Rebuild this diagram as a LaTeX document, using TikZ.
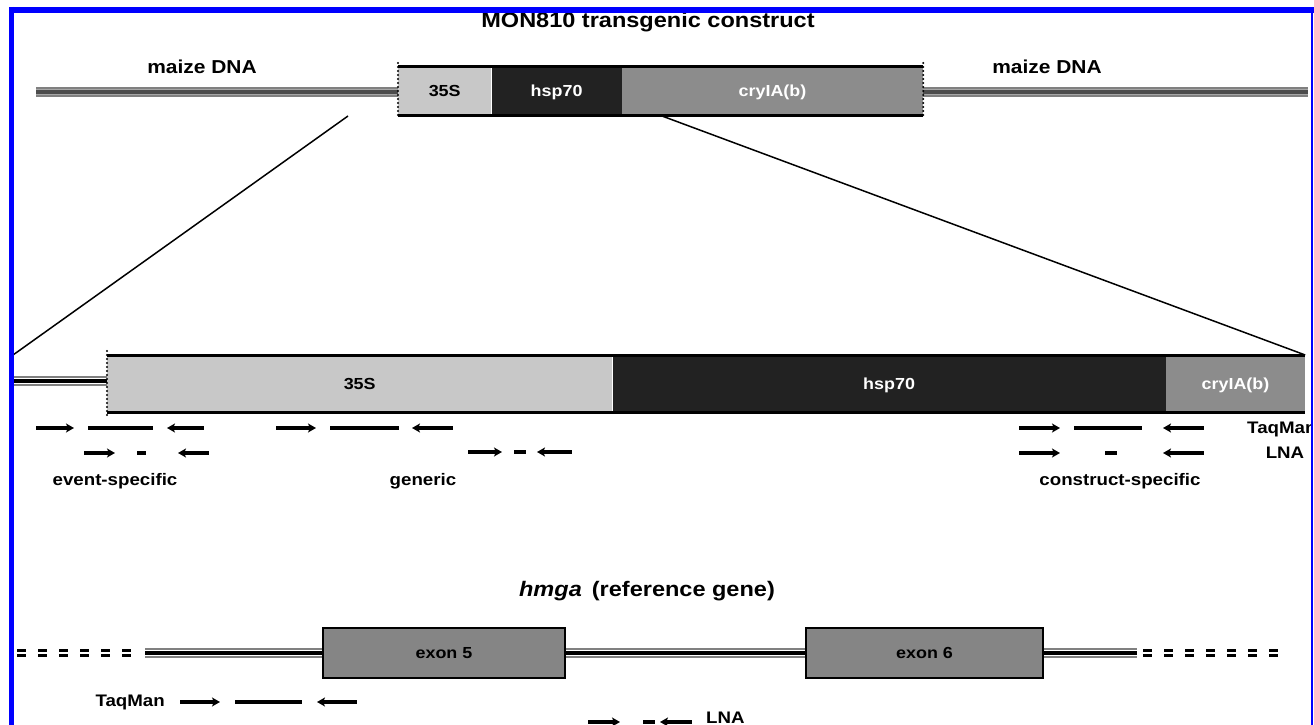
\documentclass[tikz,border=0pt]{standalone}
\usepackage{fontspec}
\setmainfont{Liberation Sans}[FakeStretch=1.12]
\usetikzlibrary{arrows.meta,backgrounds}
\definecolor{lightseg}{RGB}{200,200,200}
\definecolor{darkseg}{RGB}{34,34,34}
\definecolor{crygray}{RGB}{140,140,140}
\definecolor{exongray}{RGB}{133,133,133}
\definecolor{frameblue}{RGB}{0,0,255}
\tikzset{
  seg/.style={draw=none, inner sep=0pt, anchor=north west, text height=11.5pt, text depth=0pt,
              font=\fontsize{16}{18}\selectfont\bfseries},
  edgeline/.style={line width=3pt, black},
  dotend/.style={line width=2.2pt, dash pattern=on 0pt off 4pt, line cap=round},
  genedna/.style={draw=black!50, line width=1.5pt, double=white, double distance=6.5pt,
                  postaction={draw=black, line width=3.5pt}},
  maizedna/.style={draw=black!50, line width=1.8pt, double=black!35, double distance=6pt,
                  postaction={draw=black!70, line width=3.5pt}},
  dashdna/.style={draw=black, line width=3.3pt, double=white, double distance=2.2pt,
                  dash pattern=on 9pt off 12pt},
  zoomline/.style={line width=1.5pt, black},
  prim/.style={line width=3.5pt, black},
  fwd/.style={prim, -{Stealth[length=8pt, width=9pt, inset=2pt]}},
  rev/.style={prim, {Stealth[length=8pt, width=9pt, inset=2pt]}-},
  exon/.style={draw=black, line width=2pt, fill=exongray, minimum height=50pt, inner sep=0pt,
               text height=11.5pt, text depth=0pt, font=\fontsize{16}{18}\selectfont\bfseries},
  titlefont/.style={font=\fontsize{21}{24}\selectfont\bfseries},
  biglabel/.style={font=\fontsize{18.7}{22}\selectfont\bfseries},
  smalllabel/.style={font=\fontsize{16.7}{19}\selectfont\bfseries},
}
\begin{document}
\begin{tikzpicture}[x=1pt,y=-1pt]
\useasboundingbox (0,0) rectangle (1314,725);

% ---------- top construct ----------
\node[titlefont, anchor=base] (title) at (648,28) {MON810 transgenic construct};
\node[biglabel, anchor=base] (maizeL) at (202,74) {maize DNA};
\node[biglabel, anchor=base] (maizeR) at (1047,74) {maize DNA};

\coordinate (tl) at (36,92);
\coordinate (tr) at (1308,92);

\node[seg, fill=lightseg, minimum width=93pt, minimum height=48pt] (t35) at (398,67) {35S};
\node[seg, fill=darkseg, text=white, minimum width=130pt, minimum height=48pt] (thsp) at (t35.north east) {hsp70};
\node[seg, fill=crygray, text=white, minimum width=301pt, minimum height=48pt] (tcry) at (thsp.north east) {cryIA(b)};
\draw[maizedna] (tl) -- (tl -| t35.west);
\draw[maizedna] (tr -| tcry.east) -- (tr);
\draw[edgeline] (t35.north west) -- (tcry.north east);
\draw[edgeline] (t35.south west) -- (tcry.south east);
\draw[dotend] ([yshift=4pt]t35.north west) -- ([yshift=-3pt]t35.south west);
\draw[dotend] ([yshift=4pt]tcry.north east) -- ([yshift=-3pt]tcry.south east);

% ---------- zoom lines ----------
\coordinate (zs1) at (348,116);
\coordinate (ze1) at (13,355);
\coordinate (zs2) at (662,116);

% ---------- middle construct ----------
\node[seg, fill=lightseg, minimum width=505pt, minimum height=57pt] (m35) at (107,355) {35S};
\node[seg, fill=darkseg, text=white, minimum width=553pt, minimum height=57pt] (mhsp) at (m35.north east) {hsp70};
\node[seg, fill=crygray, text=white, minimum width=139pt, minimum height=57pt] (mcry) at (mhsp.north east) {cryIA(b)};
\coordinate (ml) at (13,381);
\draw[genedna] (ml) -- (ml -| m35.west);
\draw[edgeline] (m35.north west) -- (mcry.north east);
\draw[edgeline] (m35.south west) -- (mcry.south east);
\draw[dotend] ([yshift=4pt]m35.north west) -- ([yshift=-3pt]m35.south west);

\draw[zoomline] (zs1) -- (ze1);
\draw[zoomline] (zs2) -- (mcry.north east);

% primers: event-specific
\draw[fwd] (36,428) -- (74,428);
\draw[prim] (88,428) -- (153,428);
\draw[rev] (167,428) -- (204,428);
\draw[fwd] (84,453) -- (115,453);
\draw[prim] (137,453) -- (146,453);
\draw[rev] (178,453) -- (209,453);
% generic
\draw[fwd] (276,428) -- (316,428);
\draw[prim] (330,428) -- (399,428);
\draw[rev] (412,428) -- (453,428);
\draw[fwd] (468,452) -- (502,452);
\draw[prim] (514,452) -- (526,452);
\draw[rev] (537,452) -- (572,452);
% construct-specific
\draw[fwd] (1019,428) -- (1060,428);
\draw[prim] (1074,428) -- (1142,428);
\draw[rev] (1163,428) -- (1204,428);
\draw[fwd] (1019,453) -- (1060,453);
\draw[prim] (1105,453) -- (1117,453);
\draw[rev] (1163,453) -- (1204,453);

\node[smalllabel, anchor=base] (evlab) at (115,485) {event-specific};
\node[smalllabel, anchor=base] (genlab) at (423,485) {generic};
\node[smalllabel, anchor=base] (conlab) at (1120,485) {construct-specific};
\begin{scope}
\clip (0,0) rectangle (1310,725);
\node[smalllabel, anchor=base west, inner sep=0pt] (taqR) at (1247,433) {TaqMan};
\end{scope}
\node[smalllabel, anchor=base] (lnaR) at (1285,458) {LNA};

% ---------- reference gene ----------
\node[titlefont, anchor=base] (hmga) at (647,596) {\textit{hmga}\, (reference gene)};
\coordinate (gl) at (145,653);
\coordinate (gr) at (1137,653);
\node[exon, minimum width=242pt] (ex5) at (444,653) {exon 5};
\node[exon, minimum width=237pt] (ex6) at (924.5,653) {exon 6};
\begin{scope}[on background layer]
\draw[genedna] (gl) -- (ex5.west);
\draw[genedna] (ex5.east) -- (ex6.west);
\draw[genedna] (ex6.east) -- (gr);
\end{scope}
\draw[dashdna] (17,653) -- (140,653);
\draw[dashdna] (1143,653) -- (1282,653);

\node[smalllabel, anchor=base east, inner sep=0pt] (taqB) at (165,706) {TaqMan};
\draw[fwd] (180,702) -- (220,702);
\draw[prim] (235,702) -- (302,702);
\draw[rev] (317,702) -- (357,702);

\draw[fwd] (588,722) -- (620,722);
\draw[prim] (643,722) -- (655,722);
\draw[rev] (660,722) -- (692,722);
\node[smalllabel, anchor=base west, inner sep=0pt] (lnaB) at (706,723) {LNA};

% ---------- frame ----------
\draw[frameblue, line width=5pt] (11.5,7) -- (11.5,725);
\draw[frameblue, line width=6pt] (9,10.3) -- (1314,10.3);
\draw[frameblue, line width=2pt] (1312,7) -- (1312,725);
\end{tikzpicture}
\end{document}
